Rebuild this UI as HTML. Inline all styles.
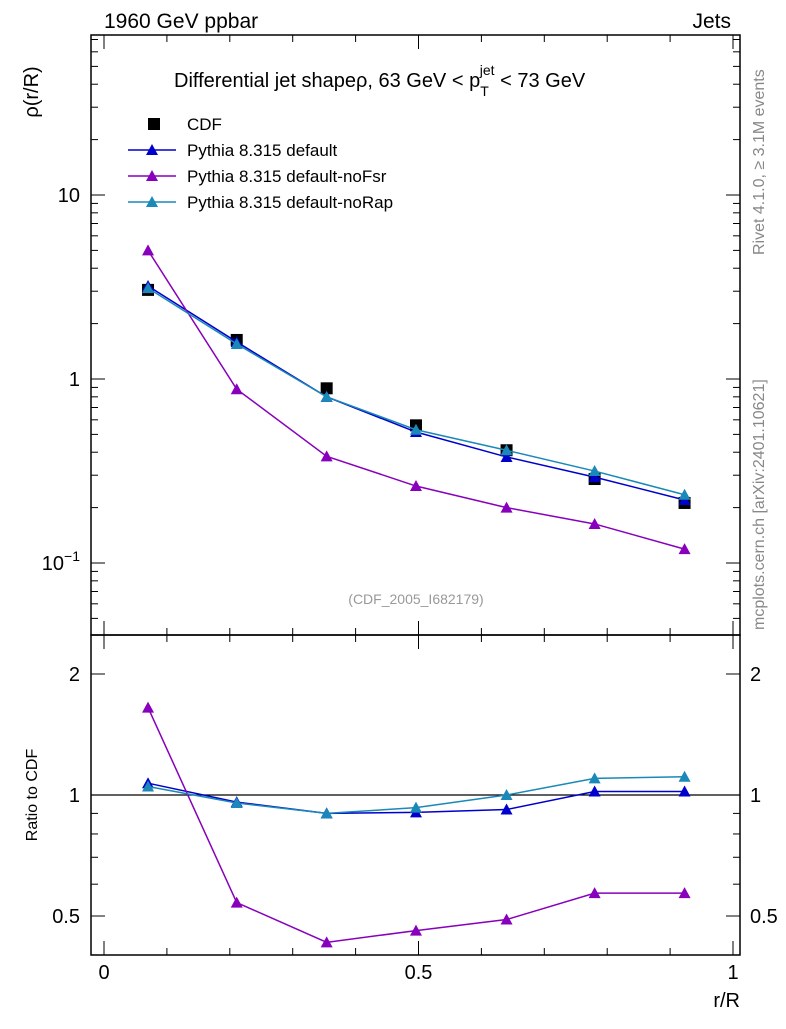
<!DOCTYPE html>
<html><head><meta charset="utf-8">
<style>
body{margin:0;background:#fff;}
svg text{font-family:"Liberation Sans","DejaVu Sans",sans-serif;}
</style></head>
<body>
<svg id="chart" width="786" height="1024" xmlns="http://www.w3.org/2000/svg">
<g id="g"></g>
</svg>
<script>
const categories=[0.07,0.211,0.354,0.496,0.64,0.78,0.923];
const cdfValues=[3.05,1.63,0.89,0.56,0.41,0.286,0.212];
const defaultValues=[3.2,1.59,0.80,0.515,0.377,0.293,0.22];
const noFsrValues=[5.0,0.88,0.38,0.262,0.20,0.163,0.119];
const noRapValues=[3.12,1.55,0.80,0.53,0.41,0.316,0.235];
const defaultRatio=[1.07,0.96,0.90,0.905,0.92,1.02,1.02];
const noFsrRatio=[1.65,0.54,0.43,0.46,0.49,0.57,0.57];
const noRapRatio=[1.05,0.955,0.90,0.93,1.0,1.1,1.11];
const ratioErr=[0.01,0.01,0.01,0.015,0.02,0.025,0.025];
const xTicks=[0,0.5,1];
const mainYTicks=[10,1,0.1];
const ratioYTicks=[2,1,0.5];

const NS="http://www.w3.org/2000/svg";
const g=document.getElementById('g');
function el(tag,attrs,parent){const e=document.createElementNS(NS,tag);for(const k in attrs)e.setAttribute(k,attrs[k]);(parent||g).appendChild(e);return e;}
const L=91,R=740,T=35,M=635,B=955;
const xs=v=>104+629*v;
const ym=v=>379-184*Math.log10(v);
const yr=v=>795-402*Math.log10(v);

let f=el('rect',{x:L,y:T,width:R-L,height:M-T,fill:'none',stroke:'#000','stroke-width':1.5});

f=el('rect',{x:L,y:M,width:R-L,height:B-M,fill:'none',stroke:'#000','stroke-width':1.5});


for(let i=0;i<=10;i++){const v=i/10,x=xs(v),len=(i%5==0)?14:7;
 for(const [a,b] of [[T,M],[M,B]]){
  el('line',{x1:x,x2:x,y1:b,y2:b-len,stroke:'#000'});
  el('line',{x1:x,x2:x,y1:a,y2:a+len,stroke:'#000'});
 }}
xTicks.forEach(v=>{const t=el('text',{x:xs(v),y:979,'font-size':20,'text-anchor':'middle'});t.textContent=String(v);
 });
let t=el('text',{x:740,y:1007,'font-size':20,'text-anchor':'end'});t.textContent='r/R';


for(let d=-2;d<=1;d++){for(let m=1;m<=9;m++){const v=m*Math.pow(10,d),y=ym(v);if(y<T||y>M)continue;const len=m==1?14:7;
 el('line',{x1:L,x2:L+len,y1:y,y2:y,stroke:'#000'});el('line',{x1:R,x2:R-len,y1:y,y2:y,stroke:'#000'});}}
mainYTicks.forEach(v=>{const y=ym(v);const t=el('text',{x:80,y:y+7,'font-size':20,'text-anchor':'end'});
 if(v==0.1){t.innerHTML='10<tspan font-size="14" dy="-9">−1</tspan>';}else t.textContent=String(v);
 });
t=el('text',{x:0,y:0,'font-size':20,transform:'translate(38,92) rotate(-90)','text-anchor':'middle'});t.textContent='ρ(r/R)';


for(const v of [0.4,0.5,0.6,0.7,0.8,0.9,1,2]){const y=yr(v);const len=(v==1||v==0.5||v==2)?14:7;
 el('line',{x1:L,x2:L+len,y1:y,y2:y,stroke:'#000'});el('line',{x1:R,x2:R-len,y1:y,y2:y,stroke:'#000'});}
ratioYTicks.forEach(v=>{const y=yr(v);
 let t=el('text',{x:80,y:y+7,'font-size':20,'text-anchor':'end'});t.textContent=String(v);
 
 t=el('text',{x:750,y:y+7,'font-size':20});t.textContent=String(v);
 });
t=el('text',{x:0,y:0,'font-size':16,transform:'translate(37,795) rotate(-90)','text-anchor':'middle'});t.textContent='Ratio to CDF';

let ln=el('line',{x1:L,x2:R,y1:yr(1),y2:yr(1),stroke:'#000','stroke-width':1.2});


t=el('text',{x:104,y:28,'font-size':21});t.textContent='1960 GeV ppbar';

t=el('text',{x:731,y:28,'font-size':21,'text-anchor':'end'});t.textContent='Jets';

t=el('text',{x:174,y:87,'font-size':20});t.innerHTML='Differential jet shapeρ, 63 GeV &lt; p<tspan font-size="14" dy="9">T</tspan><tspan font-size="14" dx="-9" dy="-21">jet</tspan><tspan dy="12"> &lt; 73 GeV</tspan>';

t=el('text',{x:416,y:604,'font-size':14,fill:'#999','text-anchor':'middle'});t.textContent='(CDF_2005_I682179)';

t=el('text',{x:0,y:0,'font-size':16,fill:'#888',transform:'translate(764,255) rotate(-90)'});t.textContent='Rivet 4.1.0, ≥ 3.1M events';

t=el('text',{x:0,y:0,'font-size':16,fill:'#888',transform:'translate(764,630) rotate(-90)'});t.textContent='mcplots.cern.ch [arXiv:2401.10621]';


function tri(x,y,c,p){return el('polygon',{points:`${x-6},${y+5} ${x+6},${y+5} ${x},${y-6}`,fill:c},p);}
function series(vals,fn,c,name,err){
 const grp=el('g',{});
 el('polyline',{points:categories.map((v,i)=>xs(v)+','+fn(vals[i])).join(' '),fill:'none',stroke:c,'stroke-width':1.5},grp);
 vals.forEach((v,i)=>{
  if(err){const x=xs(categories[i]);el('line',{x1:x,x2:x,y1:fn(v*(1+err[i])),y2:fn(v*(1-err[i])),stroke:c,'stroke-width':1.5},grp);}
  const p=tri(xs(categories[i]),fn(v),c,grp);});
}
const cg=el('g',{});
cdfValues.forEach((v,i)=>{const r=el('rect',{x:xs(categories[i])-6,y:ym(v)-6,width:12,height:12,fill:'#000'},cg);
 });
series(defaultValues,ym,'#0000cc','pythia-default-series');
series(noFsrValues,ym,'#8800bb','pythia-nofsr-series');
series(noRapValues,ym,'#1a88b8','pythia-norap-series');
series(defaultRatio,yr,'#0000cc','pythia-default-ratio',ratioErr);
series(noFsrRatio,yr,'#8800bb','pythia-nofsr-ratio',ratioErr);
series(noRapRatio,yr,'#1a88b8','pythia-norap-ratio',ratioErr);

const leg=[['CDF','#000',1],['Pythia 8.315 default','#0000cc',0],['Pythia 8.315 default-noFsr','#8800bb',0],['Pythia 8.315 default-noRap','#1a88b8',0]];
leg.forEach((e,i)=>{const y=124+26*i;const lg=el('g',{});
 if(e[2]){el('rect',{x:148,y:y-6,width:12,height:12,fill:'#000'},lg);}
 else{el('line',{x1:128,x2:176,y1:y,y2:y,stroke:e[1],'stroke-width':1.5},lg);tri(152,y,e[1],lg);}
 const tt=el('text',{x:187,y:y+6,'font-size':17},lg);tt.textContent=e[0];});
</script>
</body></html>
